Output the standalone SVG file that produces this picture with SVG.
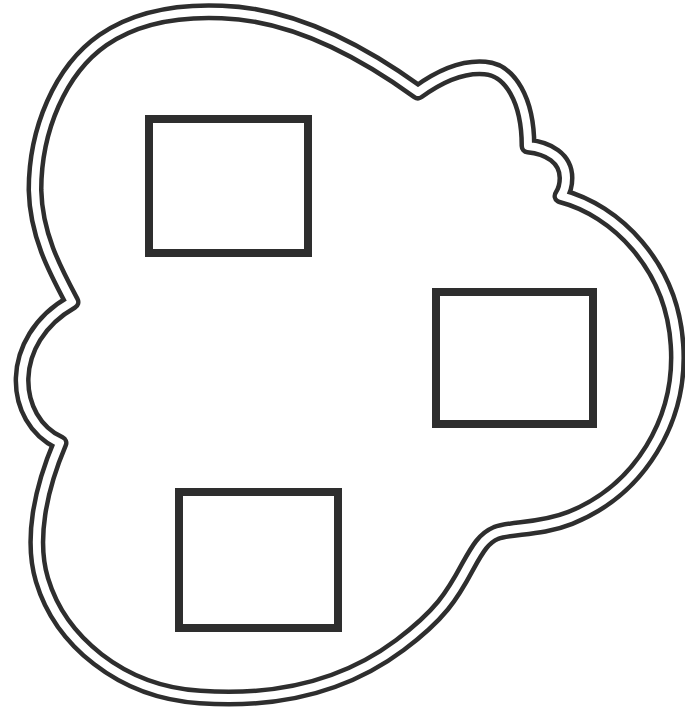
<svg xmlns="http://www.w3.org/2000/svg" width="685" height="711" viewBox="0 0 685 711">
  <defs>
    <style>
      .outline-dark { fill: none; stroke: #2e2e2e; stroke-width: 17; stroke-linejoin: round; }
      .outline-gap { fill: none; stroke: #ffffff; stroke-width: 8; stroke-linejoin: round; }
      .box { fill: none; stroke: #2e2e2e; stroke-width: 8; }
    </style>
    <path id="blob" d="M72,302 C55,270 36,235 35,190 C35,130 60,70 103,40 C135,18 175,10 222,12 C290,14 360,50 418,92 C440,76 462,66 485,68 C510,70 528,100 528,146 C548,148 566,158 566,178 C566,188 563,193 561,196 C615,210 672,265 677,345 C682,420 640,490 570,518 C540,530 512,527 496,533 C484,538 478,548 468,566 C452,596 440,615 400,645 C340,690 270,702 200,697 C120,692 60,640 42,580 C30,540 40,490 60,443 C10,420 5,340 72,302 Z"/>
  </defs>
  <rect width="685" height="711" fill="#ffffff"/>
  <g id="outline">
    <use href="#blob" class="outline-dark"/>
    <use href="#blob" class="outline-gap"/>
  </g>
  <g id="box-top">
    <rect class="box" x="149" y="119" width="159" height="134"/>
  </g>
  <g id="box-right">
    <rect class="box" x="436" y="292" width="157" height="132"/>
  </g>
  <g id="box-bottom">
    <rect class="box" x="179" y="492" width="159" height="136"/>
  </g>
</svg>
